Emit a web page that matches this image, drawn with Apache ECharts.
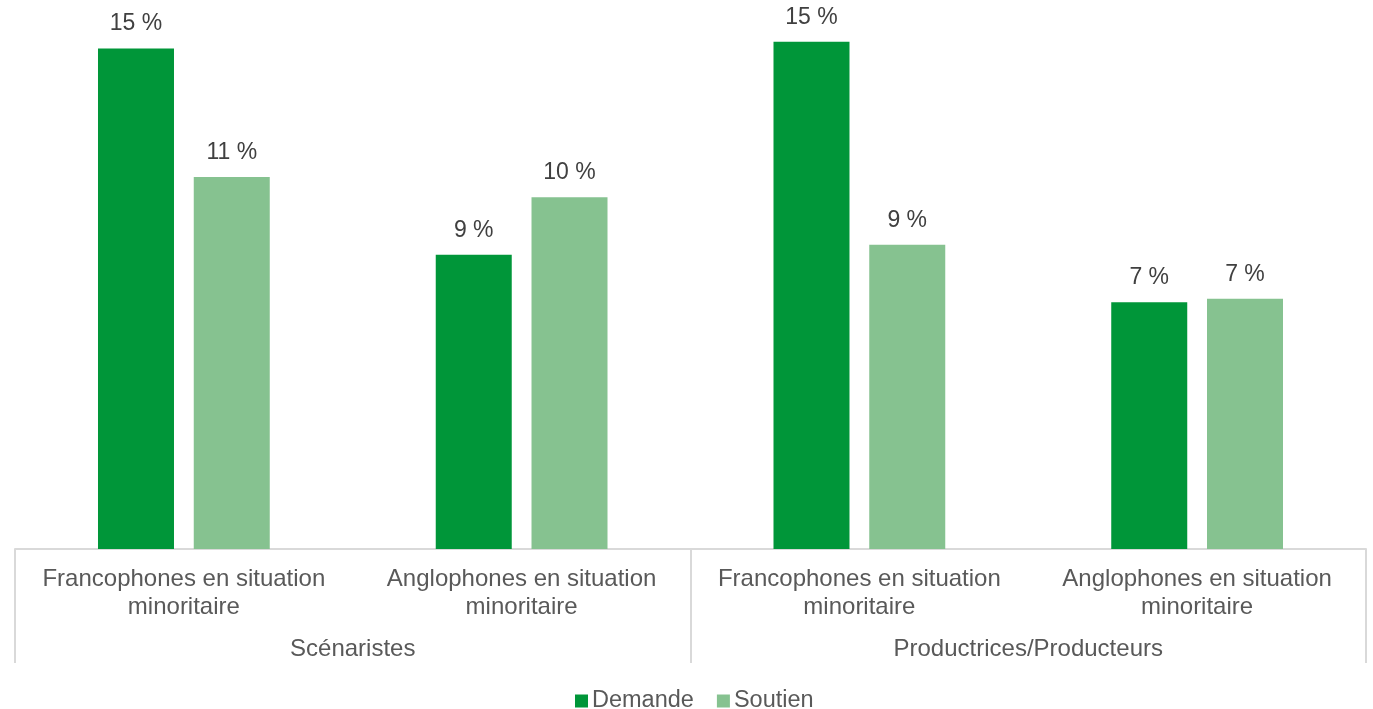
<!DOCTYPE html>
<html>
<head>
<meta charset="utf-8">
<script src="https://cdn.jsdelivr.net/npm/echarts@6/dist/echarts.min.js"></script>
<style>
html,body{margin:0;padding:0;background:#fff;}
#chart{width:1373px;height:709px;}
</style>
</head>
<body>
<div id="chart"></div>
<script>
var categories = ['Francophones en situation minoritaire', 'Anglophones en situation minoritaire',
    'Francophones en situation minoritaire', 'Anglophones en situation minoritaire'];
var groups = ['Scénaristes', 'Productrices/Producteurs'];
var demande = [14.8, 8.7, 15.0, 7.3];
var soutien = [11.0, 10.4, 9.0, 7.4];

var chart = echarts.init(document.getElementById('chart'));
var font = 'Liberation Sans, Arial, sans-serif';

function wrap(v){
    var i = v.lastIndexOf(' ');
    return v.substring(0, i) + '\n' + v.substring(i + 1);
}
var lbl = {
    show: true,
    position: 'top',
    distance: 13,
    fontFamily: font,
    fontSize: 23,
    color: '#404040',
    formatter: function(p){ return Math.round(p.value) + ' %'; }
};

var option = {
    animation: false,
    textStyle: {fontFamily: font},
    legend: {
        top: 684,
        left: 570,
        icon: 'rect',
        itemWidth: 13,
        itemHeight: 13,
        itemGap: 23,
        textStyle: {fontSize: 23.5, color: '#595959', fontFamily: font, padding: [0, 0, 0, -1]},
        data: ['Demande', 'Soutien']
    },
    grid: {left: 15, right: 7, top: 8, bottom: 160, containLabel: false},
    xAxis: [{
        type: 'category',
        data: categories,
        axisLine: {lineStyle: {color: '#d9d9d9', width: 2}},
        axisTick: {show: false},
        axisLabel: {
            interval: 0,
            margin: 16,
            fontSize: 24,
            lineHeight: 28,
            color: '#595959',
            fontFamily: font,
            formatter: wrap
        }
    }, {
        type: 'category',
        position: 'bottom',
        data: groups,
        axisLine: {show: false},
        axisTick: {show: true, length: 114, lineStyle: {color: '#d9d9d9', width: 2}},
        axisLabel: {
            interval: 0,
            margin: 88,
            fontSize: 24,
            color: '#595959',
            fontFamily: font
        }
    }],
    yAxis: {
        type: 'value',
        min: 0,
        max: 16,
        show: false,
        splitLine: {show: false}
    },
    series: [{
        name: 'Demande',
        type: 'bar',
        data: demande,
        barWidth: 76,
        barGap: '26%',
        itemStyle: {color: '#009639'},
        label: lbl
    }, {
        name: 'Soutien',
        type: 'bar',
        data: soutien,
        barWidth: 76,
        itemStyle: {color: '#86c290'},
        label: lbl
    }]
};
chart.setOption(option);
window.onresize = chart.resize;
</script>
</body>
</html>
